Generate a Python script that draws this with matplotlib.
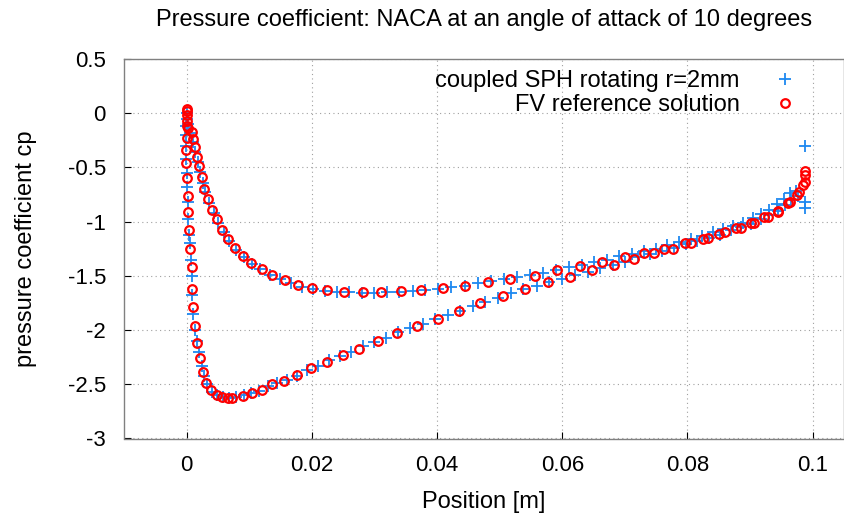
import matplotlib
matplotlib.use("Agg")
import matplotlib.pyplot as plt

plt.rcParams['font.family'] = ['Liberation Sans', 'DejaVu Sans']

# FV reference solution: suction branch (x [m], cp)
fv_suc_x = [0.0000, 0.0000, 0.0001, 0.0001, 0.0001, 0.0000, -0.00005, -0.00005, 0.0001, 0.0003,
            0.0003, 0.0004, 0.0005, 0.0008, 0.0008, 0.0010, 0.0014, 0.0017, 0.0021, 0.0026,
            0.0031, 0.0039, 0.0048, 0.0056, 0.0066, 0.0073, 0.0090, 0.0105, 0.0120, 0.0137,
            0.0156, 0.0177, 0.0198, 0.0224, 0.0249, 0.0276, 0.0305, 0.0336, 0.0368, 0.0401,
            0.0435, 0.0469, 0.0505, 0.0541, 0.0577, 0.0612, 0.0648, 0.0682, 0.0715, 0.0747,
            0.0777, 0.0805, 0.0833, 0.0860, 0.0885, 0.0907, 0.0928, 0.0944, 0.0963, 0.0978,
            0.0988]
fv_suc_cp = [0.04, 0.02, -0.02, -0.07, -0.12, -0.23, -0.34, -0.46, -0.60, -0.76,
             -0.91, -1.08, -1.25, -1.42, -1.62, -1.79, -1.96, -2.12, -2.26, -2.39,
             -2.49, -2.55, -2.60, -2.62, -2.63, -2.63, -2.61, -2.58, -2.55, -2.50,
             -2.47, -2.41, -2.35, -2.29, -2.23, -2.17, -2.10, -2.03, -1.96, -1.90,
             -1.82, -1.75, -1.69, -1.62, -1.56, -1.51, -1.45, -1.40, -1.34, -1.29,
             -1.25, -1.20, -1.15, -1.10, -1.06, -1.01, -0.96, -0.90, -0.82, -0.73,
             -0.63]

# FV reference solution: pressure branch
fv_pre_x = [0.0003, 0.0008, 0.0011, 0.0013, 0.0017, 0.0020, 0.0024, 0.0027, 0.0034, 0.0040,
            0.0048, 0.0056, 0.0066, 0.0077, 0.0090, 0.0103, 0.0120, 0.0136, 0.0157, 0.0178,
            0.0201, 0.0225, 0.0251, 0.0281, 0.0311, 0.0343, 0.0375, 0.0410, 0.0445, 0.0481,
            0.0517, 0.0556, 0.0592, 0.0628, 0.0664, 0.0700, 0.0731, 0.0763, 0.0796, 0.0825,
            0.0850, 0.0877, 0.0901, 0.0923, 0.0944, 0.0961, 0.0975, 0.0985, 0.0988, 0.0988]
fv_pre_cp = [-0.14, -0.17, -0.24, -0.31, -0.40, -0.49, -0.59, -0.70, -0.79, -0.89,
             -0.98, -1.08, -1.16, -1.24, -1.32, -1.38, -1.44, -1.49, -1.54, -1.58,
             -1.61, -1.63, -1.65, -1.65, -1.65, -1.64, -1.63, -1.61, -1.59, -1.56,
             -1.53, -1.50, -1.45, -1.41, -1.37, -1.33, -1.29, -1.25, -1.20, -1.16,
             -1.11, -1.06, -1.01, -0.96, -0.91, -0.83, -0.75, -0.66, -0.57, -0.53]

# coupled SPH: suction branch
sph_suc_x = [0.0000, 0.0000, -0.0001, -0.0001, -0.0001, -0.0001, 0.0000, 0.0001, 0.0002, 0.0003,
             0.0004, 0.0005, 0.0007, 0.0008, 0.0009, 0.0011, 0.0014, 0.0017, 0.0020, 0.0024,
             0.0028, 0.0033, 0.0040, 0.0049, 0.0058, 0.0068, 0.0079, 0.0091, 0.0103, 0.0116,
             0.0130, 0.0145, 0.0160, 0.0177, 0.0193, 0.0210, 0.0227, 0.0245, 0.0263, 0.0281,
             0.0300, 0.0319, 0.0338, 0.0357, 0.0377, 0.0397, 0.0417, 0.0437, 0.0457, 0.0477,
             0.0497, 0.0518, 0.0538, 0.0559, 0.0579, 0.0600, 0.0620, 0.0641, 0.0661, 0.0681,
             0.0701, 0.0721, 0.0740, 0.0760, 0.0779, 0.0798, 0.0816, 0.0834, 0.0852, 0.0869,
             0.0886, 0.0902, 0.0917, 0.0931, 0.0944, 0.0956, 0.0966, 0.0976, 0.0987, 0.0987]
sph_suc_cp = [0.00, -0.05, -0.12, -0.20, -0.30, -0.42, -0.55, -0.68, -0.82, -0.98,
              -1.12, -1.20, -1.35, -1.50, -1.68, -1.85, -2.00, -2.10, -2.20, -2.33,
              -2.42, -2.50, -2.57, -2.60, -2.62, -2.63, -2.62, -2.60, -2.58, -2.56,
              -2.52, -2.49, -2.46, -2.42, -2.37, -2.33, -2.28, -2.24, -2.20, -2.15,
              -2.11, -2.07, -2.02, -1.98, -1.94, -1.90, -1.86, -1.82, -1.78, -1.74,
              -1.70, -1.66, -1.62, -1.59, -1.56, -1.53, -1.49, -1.46, -1.43, -1.40,
              -1.37, -1.33, -1.30, -1.27, -1.24, -1.21, -1.18, -1.15, -1.12, -1.08,
              -1.05, -1.02, -0.98, -0.94, -0.90, -0.85, -0.80, -0.76, -0.82, -0.87]

# coupled SPH: pressure branch
sph_pre_x = [0.0003, 0.0006, 0.0010, 0.0014, 0.0018, 0.0022, 0.0026, 0.0030, 0.0036, 0.0043,
             0.0050, 0.0059, 0.0068, 0.0079, 0.0091, 0.0104, 0.0118, 0.0133, 0.0149, 0.0166,
             0.0184, 0.0202, 0.0221, 0.0240, 0.0260, 0.0280, 0.0300, 0.0320, 0.0340, 0.0361,
             0.0381, 0.0402, 0.0423, 0.0444, 0.0465, 0.0486, 0.0507, 0.0528, 0.0549, 0.0570,
             0.0590, 0.0611, 0.0631, 0.0651, 0.0671, 0.0691, 0.0711, 0.0730, 0.0749, 0.0768,
             0.0787, 0.0805, 0.0823, 0.0840, 0.0857, 0.0873, 0.0889, 0.0904, 0.0918, 0.0931,
             0.0943, 0.0954, 0.0964, 0.0973, 0.0987]
sph_pre_cp = [-0.10, -0.18, -0.27, -0.36, -0.45, -0.54, -0.64, -0.73, -0.83, -0.92,
              -1.01, -1.10, -1.18, -1.26, -1.33, -1.39, -1.44, -1.49, -1.53, -1.57,
              -1.60, -1.62, -1.64, -1.65, -1.65, -1.66, -1.66, -1.65, -1.65, -1.64,
              -1.63, -1.62, -1.60, -1.59, -1.57, -1.55, -1.53, -1.51, -1.49, -1.47,
              -1.45, -1.42, -1.40, -1.37, -1.35, -1.32, -1.30, -1.27, -1.25, -1.22,
              -1.19, -1.16, -1.13, -1.10, -1.07, -1.04, -1.01, -0.97, -0.93, -0.89,
              -0.84, -0.79, -0.74, -0.72, -0.30]

x_ticks = [0, 0.02, 0.04, 0.06, 0.08, 0.1]
x_tick_labels = ["0", "0.02", "0.04", "0.06", "0.08", "0.1"]
y_ticks = [0.5, 0, -0.5, -1, -1.5, -2, -2.5, -3]
y_tick_labels = ["0.5", "0", "-0.5", "-1", "-1.5", "-2", "-2.5", "-3"]

sph_color = "#1e88f0"
fv_color = "#ff0000"

fig = plt.figure(figsize=(8.44, 5.19), dpi=100)
ax = fig.add_axes([124/844, 1 - 438.5/519, (844 - 124)/844, (438.5 - 59)/519])

ax.plot(sph_suc_x + sph_pre_x, sph_suc_cp + sph_pre_cp, linestyle='none', marker='+',
        ms=8.5, mew=1.3, color=sph_color, label="coupled SPH rotating r=2mm", zorder=3)
ax.plot(fv_suc_x + fv_pre_x, fv_suc_cp + fv_pre_cp, linestyle='none', marker='o',
        ms=6.2, mew=1.6, mfc='none', mec=fv_color, label="FV reference solution", zorder=4)

ax.set_xlim(-0.01, 0.105)
ax.set_ylim(-3, 0.5)
ax.set_xticks(x_ticks)
ax.set_xticklabels(x_tick_labels)
ax.set_yticks(y_ticks)
ax.set_yticklabels(y_tick_labels)
ax.tick_params(direction='in', length=5, width=0.8, color='black', labelsize=16)
ax.tick_params(axis='x', pad=12)
ax.tick_params(axis='y', pad=13)
ax.grid(True, linestyle=(0, (1, 3)), color='#a0a0a0', linewidth=0.8)
for s in ax.spines.values():
    s.set_color('#808080')
    s.set_linewidth(1.0)

ax.set_xlabel("Position [m]", fontsize=17, labelpad=11)
ax.set_ylabel("pressure coefficient cp", fontsize=17, labelpad=22)
ax.set_title("Pressure coefficient: NACA at an angle of attack of 10 degrees",
             fontsize=17, pad=24)

leg = ax.legend(loc='upper right', markerfirst=False, frameon=False, fontsize=17,
                bbox_to_anchor=(0.965, 1.015), handletextpad=1.15, labelspacing=0.1,
                handlelength=1.5, borderaxespad=0.3)
for t in leg.get_texts():
    t.set_ha('right')

fig.savefig("out.png", dpi=100)
